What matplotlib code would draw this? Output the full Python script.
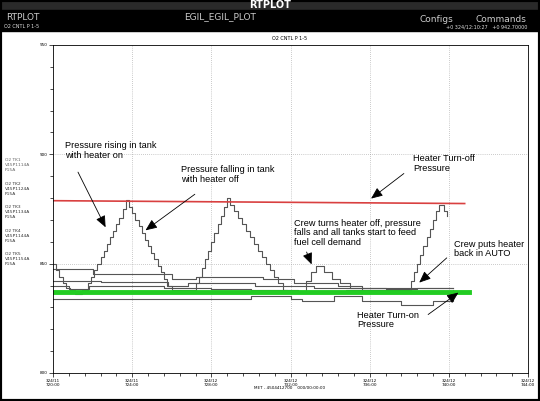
import matplotlib.pyplot as plt
from matplotlib.patches import Rectangle

W, H = 540, 401

# time axis in hours from plot start, pressure in psia
x_ticks = [0, 1, 2, 3, 4, 5, 6]
x_ticklabels = ["324/11\n720:00", "324/11\n724:00", "324/12\n728:00", "324/12\n732:00",
                "324/12\n736:00", "324/12\n740:00", "324/12\n744:00"]
y_ticks = [800, 850, 900, 950]

# main tank (heater cycling)
tk_t = [0.00, 0.04, 0.08, 0.12, 0.16, 0.22, 0.28, 0.36, 0.44, 0.48, 0.52, 0.56, 0.60, 0.64,
        0.68, 0.72, 0.76, 0.80, 0.84, 0.88, 0.92, 0.96, 1.00, 1.04, 1.08, 1.12, 1.16, 1.20,
        1.24, 1.28, 1.32, 1.36, 1.40, 1.44, 1.50, 1.80, 1.84, 1.88, 1.92, 1.96, 2.00, 2.04,
        2.08, 2.12, 2.16, 2.20, 2.24, 2.29, 2.34, 2.39, 2.44, 2.49, 2.54, 2.59, 2.64, 2.69,
        2.74, 2.79, 2.84, 2.90, 2.96, 3.20, 3.26, 3.32, 3.42, 3.52, 3.62, 3.75, 3.90, 4.52,
        4.56, 4.60, 4.64, 4.68, 4.72, 4.76, 4.80, 4.84, 4.88, 4.94, 4.98]
tk_p = [850, 847, 844, 841, 839, 838, 836, 838, 841, 844, 847, 850, 853, 856,
        859, 862, 865, 868, 871, 875, 879, 876, 873, 870, 867, 864, 861, 858,
        855, 852, 849, 846, 843, 840, 838, 841, 844, 848, 852, 856, 860, 864,
        868, 872, 876, 880, 877, 874, 871, 868, 865, 862, 859, 856, 853, 850,
        847, 844, 841, 838, 837, 842, 846, 849, 846, 843, 841, 839, 838, 842,
        846, 850, 854, 858, 862, 866, 870, 874, 877, 874, 872]

tk2_t = [0.00, 0.50, 1.50, 1.80, 2.65, 3.05, 3.60, 3.90, 5.05]
tk2_p = [847.5, 845.5, 843, 844, 843, 841, 840, 839, 839]
tk3_t = [0.00, 0.60, 1.45, 1.70, 2.55, 3.30, 4.20, 4.60, 5.05]
tk3_p = [842, 841.5, 840, 841, 840, 839, 838.5, 839, 839]
tk4_t = [0.00, 0.20, 0.45, 1.40, 2.00, 2.50, 3.10, 3.70, 4.40, 5.05]
tk4_p = [840, 838.5, 840, 839, 838.5, 838, 837.5, 838, 837.5, 838]
tk5_t = [0.00, 2.50, 3.00, 3.15, 3.55, 3.90, 4.40, 4.80, 5.05]
tk5_p = [834, 835, 834, 833, 835, 833, 831, 833, 834]

turn_off = ([0.0, 5.2], [878.8, 877.5])
turn_on = ([0.0, 5.25], [837.2, 837.2])

fig = plt.figure(figsize=(W / 100, H / 100), dpi=100)
fig.patch.set_facecolor("white")


def fx(px):
    return px / W


def fy(py):
    return 1 - py / H


# window chrome
fig.patches.append(Rectangle((0, fy(10)), 1, 10 / H, transform=fig.transFigure, color="#2a2a2a"))
fig.patches.append(Rectangle((0, fy(31)), 1, 21 / H, transform=fig.transFigure, color="black"))
fig.patches.append(Rectangle((0, 0), 1, 1, transform=fig.transFigure, fill=False, ec="black", lw=3))
fig.text(0.5, fy(5), "RTPLOT", color="white", ha="center", va="center", fontsize=7, weight="bold")
fig.text(fx(6), fy(17), "RTPLOT", color="#cccccc", ha="left", va="center", fontsize=6.5)
fig.text(fx(220), fy(17), "EGIL_EGIL_PLOT", color="#cccccc", ha="center", va="center", fontsize=6.5)
fig.text(fx(420), fy(19), "Configs", color="#cccccc", ha="left", va="center", fontsize=6.5)
fig.text(fx(475), fy(19), "Commands", color="#cccccc", ha="left", va="center", fontsize=6.5)
fig.text(fx(4), fy(27), "O2 CNTL P 1-5", color="#dddddd", ha="left", va="center", fontsize=3.5)
fig.text(fx(527), fy(27), "+0 324/12:10:27   +0 942.70000", color="#dddddd", ha="right",
         va="center", fontsize=3.5)
fig.text(fx(290), fy(38), "O2 CNTL P 1-5", ha="center", va="center", fontsize=3.5)
fig.text(fx(290), fy(388), "MET - 4504412700    000/00:00:00", ha="center", va="center", fontsize=3)

legend_y = [158, 182, 205, 229, 252]
for i, ly in enumerate(legend_y):
    fig.text(fx(5), fy(ly), "O2 TK%d\nV45P11%d4A\nP15A" % (i + 1, i + 1), ha="left", va="top",
             fontsize=3.2, color="#666666" if i == 0 else "#333333", linespacing=1.3)

ax = fig.add_axes([fx(53), fy(373), 475 / W, 328 / H])
ax.set_xlim(0, 6)
ax.set_ylim(800, 950)
ax.set_xticks(x_ticks)
ax.set_xticklabels(x_ticklabels, fontsize=3)
ax.set_xticks([i / 5 for i in range(31)], minor=True)
ax.set_yticks(y_ticks)
ax.set_yticklabels([str(v) for v in y_ticks], fontsize=3)
ax.set_yticks(range(800, 951, 10), minor=True)
ax.tick_params(length=3, width=0.5, pad=1)
ax.tick_params(which="minor", length=2, width=0.5)
for s in ax.spines.values():
    s.set_linewidth(0.6)
for xt in x_ticks[1:-1]:
    ax.axvline(xt, color="#999999", lw=0.5, ls=(0, (1, 2)))
for yt in [850, 900]:
    ax.axhline(yt, color="#999999", lw=0.5, ls=(0, (1, 2)))

for tt, pp in [(tk2_t, tk2_p), (tk3_t, tk3_p), (tk4_t, tk4_p), (tk5_t, tk5_p), (tk_t, tk_p)]:
    ax.step(tt, pp, where="post", color="#555555", lw=0.8)

ax.plot(*turn_off, color="#d94040", lw=1.2)
ax.plot(*turn_on, color="#22cc22", lw=3.5)

arrow = dict(arrowstyle="-|>,head_width=0.3,head_length=0.7", color="black", lw=0.6)
fs = 6.6
tkw = dict(fontsize=fs, va="top", linespacing=1.05, family="Liberation Sans")
ax.annotate("", xy=(0.68, 865.5), xytext=(0.30, 893), arrowprops=arrow)
ax.text(0.15, 906, "Pressure rising in tank\nwith heater on", **tkw)
ax.annotate("", xy=(1.14, 864.5), xytext=(1.82, 882.5), arrowprops=arrow)
ax.text(1.62, 895, "Pressure falling in tank\nwith heater off", **tkw)
ax.annotate("", xy=(3.99, 879), xytext=(4.46, 892), arrowprops=arrow)
ax.text(4.55, 900, "Heater Turn-off\nPressure", **tkw)
ax.annotate("", xy=(3.28, 848.5), xytext=(3.19, 856.5), arrowprops=arrow)
ax.text(3.05, 870.5, "Crew turns heater off, pressure\nfalls and all tanks start to feed\n"
        "fuel cell demand", ha="left", **tkw)
ax.annotate("", xy=(4.60, 840.5), xytext=(5.00, 853.5), arrowprops=arrow)
ax.text(5.07, 861, "Crew puts heater\nback in AUTO", **tkw)
ax.annotate("", xy=(5.15, 837.5), xytext=(4.71, 826), arrowprops=arrow)
ax.text(3.84, 828.5, "Heater Turn-on\nPressure", **tkw)

fig.savefig("out.png", dpi=100)
